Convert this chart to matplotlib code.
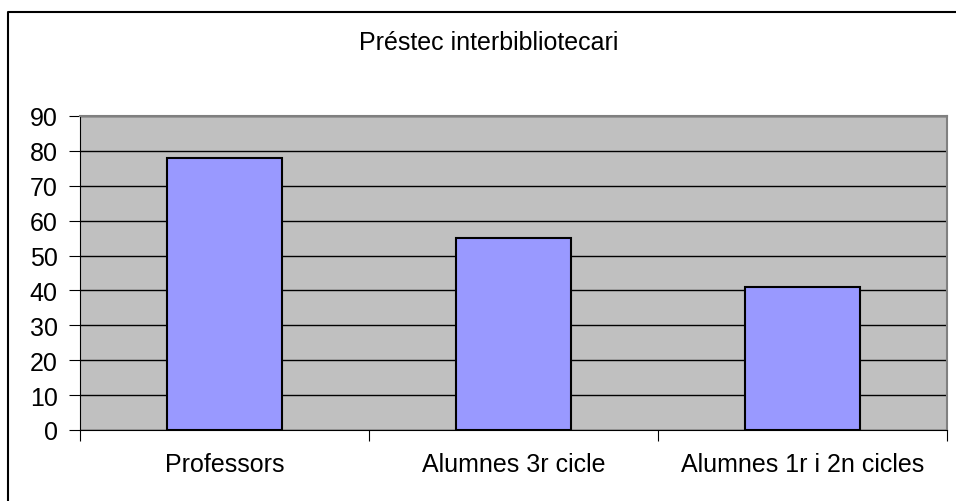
import matplotlib.pyplot as plt
from matplotlib.lines import Line2D

# dades
categories = ['Professors', 'Alumnes 3r cicle', 'Alumnes 1r i 2n cicles']
values = [78, 55, 41]
yticks = [0, 10, 20, 30, 40, 50, 60, 70, 80, 90]

plt.rcParams['font.family'] = ['Liberation Sans', 'DejaVu Sans']

fig = plt.figure(figsize=(9.56, 5.02), dpi=100)
W, H = 956, 502

# marc exterior (nomes es veuen la vora esquerra i la de dalt)
fig.lines.append(Line2D([8 / W, 8 / W, 1], [0, 1 - 13 / H, 1 - 13 / H],
                        transform=fig.transFigure, color='black', linewidth=1.5))

ax = fig.add_axes([80 / W, 1 - 431 / H, (947 - 80) / W, (431 - 117) / H])
ax.set_facecolor('#C0C0C0')

x = range(len(categories))
ax.bar(x, values, width=0.4, color='#9999FF', edgecolor='black', linewidth=1.5, zorder=3)

ax.set_xlim(-0.5, len(categories) - 0.5)
ax.set_ylim(0, 90)
ax.set_yticks(yticks)
ax.set_yticklabels([str(v) for v in yticks], fontsize=18)
ax.yaxis.grid(True, color='black', linewidth=1, zorder=1)
ax.set_axisbelow(True)

# ticks a les vores de categoria
ax.set_xticks([i - 0.5 for i in range(len(categories) + 1)])
ax.set_xticklabels([])
ax.set_xticks(list(x), minor=True)
ax.set_xticklabels(categories, minor=True, fontsize=18)
ax.tick_params(axis='x', which='minor', length=0, pad=16)
ax.tick_params(axis='x', which='major', length=8, direction='out', color='black')
ax.tick_params(axis='y', length=8, direction='out', pad=8)

for s in ['top', 'right']:
    ax.spines[s].set_color('#808080')
    ax.spines[s].set_linewidth(1.5)
ax.spines['left'].set_color('black')
ax.spines['bottom'].set_color('black')

fig.text(489 / W, 1 - 43 / H, 'Préstec interbibliotecari', ha='center', va='center', fontsize=18)

fig.savefig('out.png', dpi=100)
